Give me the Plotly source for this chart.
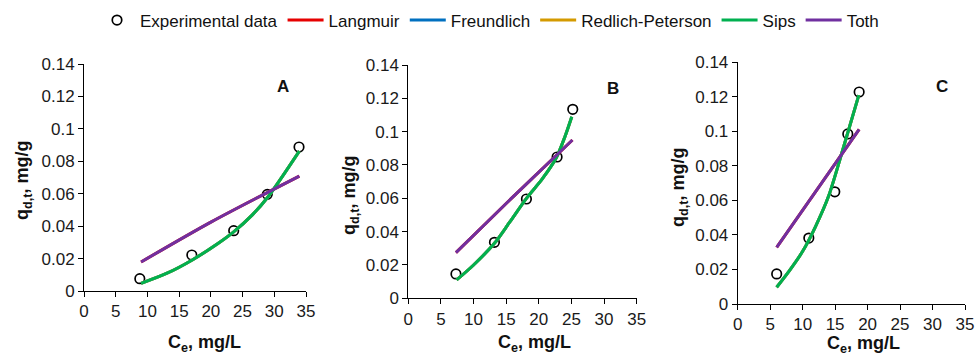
import plotly.graph_objects as go

# ---- data -------------------------------------------------------------
panels = ["A", "B", "C"]

# experimental points (Ce, mg/L ; q_d,t, mg/g)
exp_x_A = [8.8, 17.0, 23.6, 28.9, 33.9]
exp_y_A = [0.0076, 0.0222, 0.0372, 0.0596, 0.0888]
exp_x_B = [7.3, 13.2, 18.1, 22.8, 25.2]
exp_y_B = [0.0146, 0.0336, 0.0596, 0.0848, 0.1134]
exp_x_C = [6.0, 10.95, 14.95, 16.95, 18.7]
exp_y_C = [0.0174, 0.0382, 0.0650, 0.0985, 0.1228]

# Sips model curves
sips_x_A = [9.0, 13.0, 17.0, 21.0, 23.6, 26.5, 28.9, 33.95]
sips_y_A = [0.0047, 0.0108, 0.0190, 0.0290, 0.0365, 0.0468, 0.0575, 0.0863]
sips_x_B = [7.4, 10.0, 13.2, 15.5, 18.1, 20.5, 22.7, 24.0, 25.05]
sips_y_B = [0.011, 0.020, 0.033, 0.0455, 0.060, 0.0715, 0.0845, 0.097, 0.109]
sips_x_C = [6.0, 8.0, 10.0, 12.0, 14.0, 16.0, 18.65]
sips_y_C = [0.0097, 0.0195, 0.0305, 0.045, 0.0625, 0.087, 0.121]

# Toth model curves
toth_x_A = [9.0, 20.0, 33.95]
toth_y_A = [0.0179, 0.0425, 0.0709]
toth_x_B = [7.3, 16.2, 25.15]
toth_y_B = [0.0274, 0.0615, 0.095]
toth_x_C = [6.0, 12.35, 18.7]
toth_y_C = [0.0328, 0.067, 0.1012]

# Langmuir coincides with Toth; Freundlich and Redlich-Peterson with Sips
model_names = ["Langmuir", "Freundlich", "Redlich-Peterson", "Sips", "Toth"]
model_colors = ["#E60000", "#0070C0", "#D49A00", "#00B050", "#7030A0"]
model_source = ["toth", "sips", "sips", "sips", "toth"]

x_ticks = [0, 5, 10, 15, 20, 25, 30, 35]
y_ticks = [0, 0.02, 0.04, 0.06, 0.08, 0.1, 0.12, 0.14]

data = {
    "A": dict(ex=exp_x_A, ey=exp_y_A, sips=(sips_x_A, sips_y_A), toth=(toth_x_A, toth_y_A)),
    "B": dict(ex=exp_x_B, ey=exp_y_B, sips=(sips_x_B, sips_y_B), toth=(toth_x_B, toth_y_B)),
    "C": dict(ex=exp_x_C, ey=exp_y_C, sips=(sips_x_C, sips_y_C), toth=(toth_x_C, toth_y_C)),
}

# ---- layout geometry (pixels of a 977 x 356 canvas) -------------------
W, H = 977, 356
# left, right, bottom(y=0), top(y=0.14) of each plot area
boxes = {
    "A": (84, 306, 291, 64),
    "B": (408.3, 636.7, 298.3, 65),
    "C": (737.7, 965, 304, 62.3),
}
xtitle_pos = {"A": (204, 343.5), "B": (534, 343.5), "C": (863, 344.5)}
ytitle_pos = {"A": (23, 181), "B": (350, 196), "C": (680, 188)}

FONT = "Liberation Sans, Arial, sans-serif"
fig = go.Figure()

for i, p in enumerate(panels):
    suffix = "" if i == 0 else str(i + 1)
    xa, ya = "x" + suffix, "y" + suffix
    d = data[p]
    first = i == 0
    fig.add_trace(go.Scatter(
        x=d["ex"], y=d["ey"], mode="markers", name="Experimental data",
        xaxis=xa, yaxis=ya, showlegend=first, legendgroup="exp",
        marker=dict(symbol="circle-open", size=9.5, color="black",
                    line=dict(width=1.7, color="black")),
    ))
    for name, color, src in zip(model_names, model_colors, model_source):
        cx, cy = d[src]
        fig.add_trace(go.Scatter(
            x=cx, y=cy, mode="lines", name=name, xaxis=xa, yaxis=ya,
            showlegend=first, legendgroup=name,
            line=dict(color=color, width=3, shape="spline", smoothing=0.8),
        ))

layout = dict(
    width=W, height=H,
    margin=dict(l=0, r=0, t=0, b=0, autoexpand=False),
    paper_bgcolor="white", plot_bgcolor="white",
    font=dict(family=FONT, size=17, color="#1a1a1a"),
    legend=dict(orientation="h", x=94 / W, xanchor="left",
                y=1 - 20.5 / H, yanchor="middle",
                font=dict(size=17, color="#111"), itemwidth=36,
                bgcolor="rgba(0,0,0,0)"),
    annotations=[],
)

for i, p in enumerate(panels):
    suffix = "" if i == 0 else str(i + 1)
    l, r, b, t = boxes[p]
    axis_common = dict(showline=True, linecolor="black", linewidth=1,
                       ticks="outside", ticklen=5, tickcolor="black",
                       showgrid=False, zeroline=False,
                       tickfont=dict(size=17, color="#1a1a1a"))
    layout["xaxis" + suffix] = dict(
        domain=[l / W, r / W], range=[0, 35], tickvals=x_ticks,
        anchor="y" + suffix, **axis_common)
    layout["yaxis" + suffix] = dict(
        domain=[1 - b / H, 1 - t / H], range=[0, 0.14], tickvals=y_ticks,
        anchor="x" + suffix, **axis_common)
    xt, yt = xtitle_pos[p]
    layout["annotations"].append(dict(
        text="<b>C<sub>e</sub>, mg/L</b>", xref="paper", yref="paper",
        x=xt / W, y=1 - yt / H, xanchor="center", yanchor="middle",
        showarrow=False, borderpad=0, font=dict(size=18, color="#111")))
    xt, yt = ytitle_pos[p]
    layout["annotations"].append(dict(
        text="<b>q<sub>d,t</sub>, mg/g</b>", xref="paper", yref="paper",
        x=xt / W, y=1 - yt / H, xanchor="center", yanchor="middle",
        textangle=-90, showarrow=False, borderpad=0,
        font=dict(size=18, color="#111")))
    layout["annotations"].append(dict(
        text="<b>%s</b>" % p, xref="x" + suffix, yref="y" + suffix,
        x=31.4, y=0.126, xanchor="center", yanchor="middle",
        showarrow=False, font=dict(size=17, color="#111")))

fig.update_layout(**layout)
fig.write_html("out.html")
